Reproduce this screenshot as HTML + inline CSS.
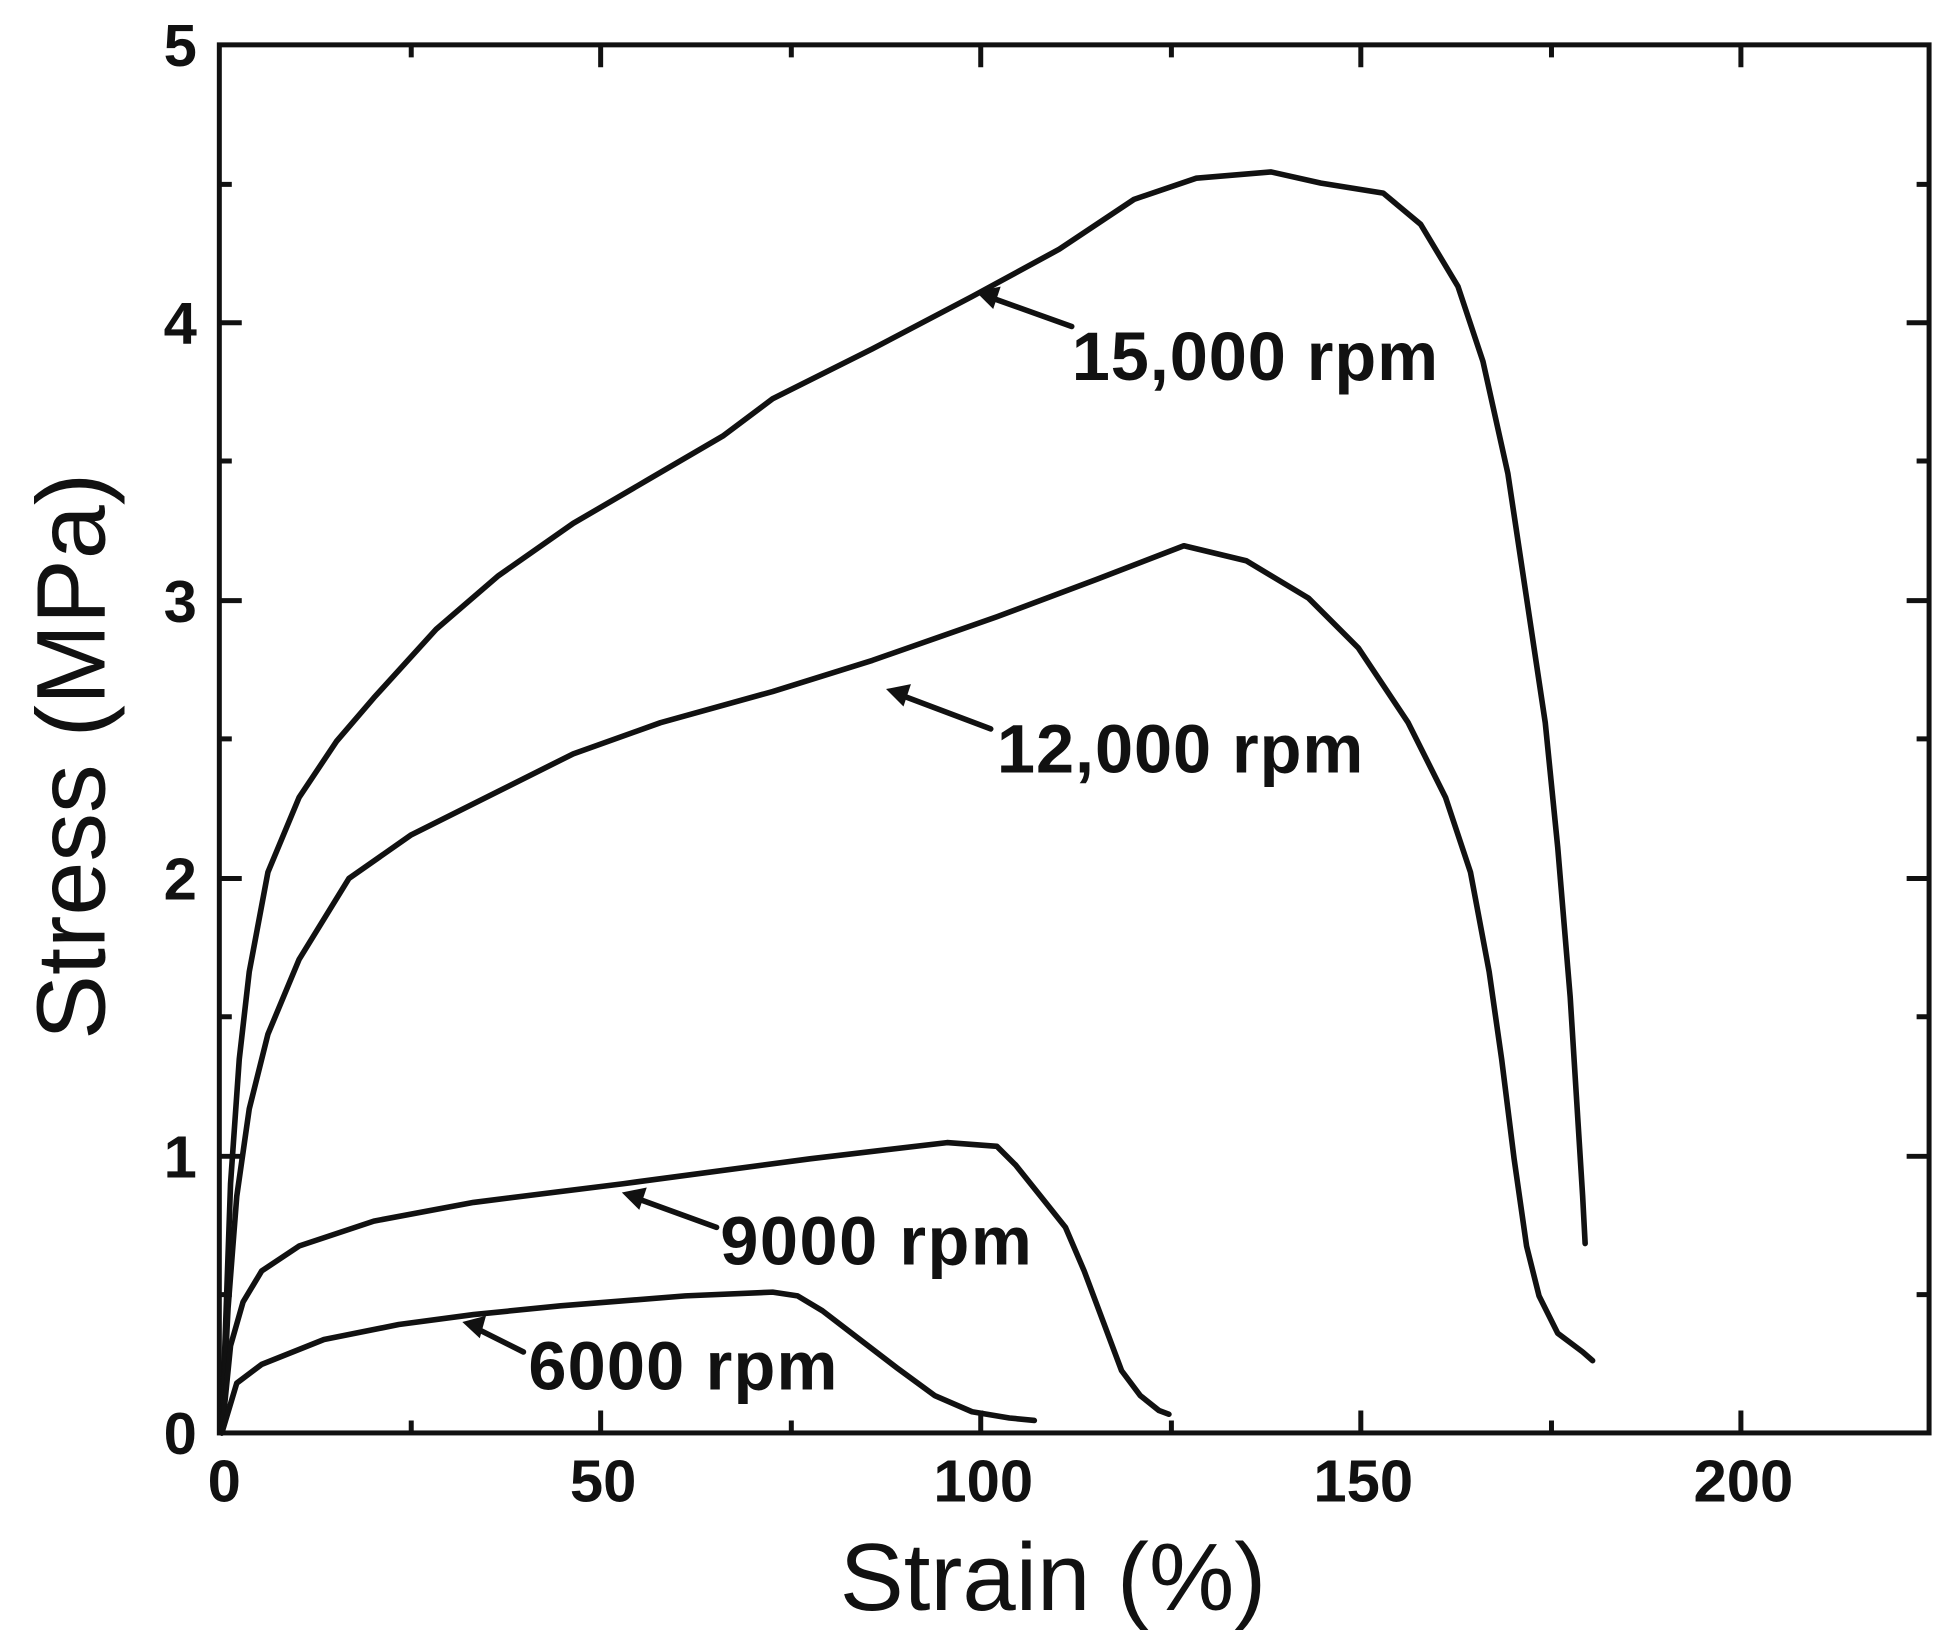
<!DOCTYPE html>
<html><head><style>html,body{margin:0;padding:0;background:#fff}svg{display:block}</style></head>
<body>
<svg width="1954" height="1646" viewBox="0 0 1568 1321" preserveAspectRatio="none" xmlns="http://www.w3.org/2000/svg" font-family="Liberation Sans, Arial, sans-serif">
<rect x="0" y="0" width="1568" height="1321" fill="#fff"/>
<g stroke="#111" stroke-width="4" fill="none">
<rect x="176" y="36" width="1372" height="1114"/>
<path d="M482 1150v-18M787 1150v-18M1092 1150v-18M1397 1150v-18M330 1150v-10M635 1150v-10M940 1150v-10M1245 1150v-10
M482 36v18M787 36v18M1092 36v18M1397 36v18M330 36v10M635 36v10M940 36v10M1245 36v10
M176 928h18M176 705h18M176 482h18M176 259h18M176 1039h10M176 816h10M176 593h10M176 370h10M176 148h10
M1548 928h-18M1548 705h-18M1548 482h-18M1548 259h-18M1548 1039h-10M1548 816h-10M1548 593h-10M1548 370h-10M1548 148h-10"/>
</g>
<g fill="none" stroke="#111" stroke-width="4.5" stroke-linejoin="round" stroke-linecap="round">
<polyline points="178,1150 185,950 192,850 200,780 215,700 240,640 270,595 300,560 350,505 400,462 460,420 520,385 580,350 620,320 700,280 780,238 850,200 910,160 960,143 1020,138 1060,147 1110,155 1140,180 1170,230 1190,290 1210,380 1225,480 1240,580 1250,680 1260,800 1265,880 1270,960 1272,998"/>
<polyline points="178,1150 183,1050 190,960 200,890 215,830 240,770 280,705 330,670 400,635 460,605 530,580 620,555 700,530 800,495 880,465 950,438 1000,450 1050,480 1090,520 1130,580 1160,640 1180,700 1195,780 1205,850 1215,930 1225,1000 1235,1040 1250,1070 1270,1085 1278,1092"/>
<polyline points="178,1150 185,1080 195,1045 210,1020 240,1000 300,980 380,965 500,950 650,930 760,917 800,920 815,935 835,960 855,985 870,1020 885,1060 900,1100 915,1120 930,1132 938,1135"/>
<polyline points="178,1150 190,1110 210,1095 260,1075 320,1063 380,1055 450,1048 550,1040 620,1037 640,1040 660,1052 690,1075 720,1098 750,1120 780,1133 810,1138 830,1140"/>
<path d="M860 262L790 237M795 585L718 556M575 985L506 960M420 1085L378 1064"/>
</g>
<g fill="#111">
<polygon points="783,234 803,230 797,248"/>
<polygon points="711,553 731,549 725,567"/>
<polygon points="499,957 519,953 513,971"/>
<polygon points="371,1061 390,1056 385,1074"/>
</g>
<g font-weight="bold" font-size="55" fill="#111">
<text x="860" y="305" textLength="294">15,000 rpm</text>
<text x="800" y="620" textLength="294">12,000 rpm</text>
<text x="578" y="1015" textLength="250">9000 rpm</text>
<text x="424" y="1115" textLength="248">6000 rpm</text>
</g>
<g font-weight="bold" font-size="48" fill="#111" text-anchor="middle">
<text x="180" y="1205">0</text><text x="484" y="1205">50</text><text x="789" y="1205">100</text><text x="1094" y="1205">150</text><text x="1399" y="1205">200</text>
</g>
<g font-weight="bold" font-size="48" fill="#111" text-anchor="end">
<text x="158" y="1167">0</text><text x="158" y="945">1</text><text x="158" y="722">2</text><text x="158" y="499">3</text><text x="158" y="276">4</text><text x="158" y="53">5</text>
</g>
<text x="845" y="1292" font-size="77" text-anchor="middle" fill="#111">Strain (%)</text>
<text transform="translate(84,607) rotate(-90)" font-size="78" text-anchor="middle" fill="#111">Stress  (MPa)</text>
</svg>
</body></html>
